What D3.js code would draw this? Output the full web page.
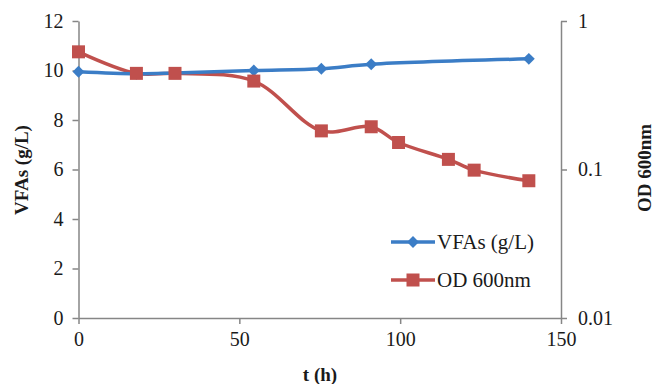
<!DOCTYPE html>
<html>
<head>
<meta charset="utf-8">
<script src="https://cdn.jsdelivr.net/npm/d3@7"></script>
<style>
  body { margin: 0; background: #fff; }
  svg text { font-family: "Liberation Serif", "Times New Roman", serif; fill: #1a1a1a; }
</style>
</head>
<body>
<div id="chart"></div>
<script>
// time points (h)
const hours = [0, 18, 30, 54.5, 75.5, 91, 99.5, 115, 123, 140];
// VFAs (g/L), measured at fewer times
const vfaHours = [0, 18, 30, 54.5, 75.5, 91, 140];
const vfaValues = [9.95, 9.87, 9.9, 10.0, 10.07, 10.25, 10.47];
// OD 600nm (log axis)
const odValues = [0.62, 0.444, 0.444, 0.394, 0.182, 0.194, 0.152, 0.117, 0.099, 0.084];

const leftTicks = [0, 2, 4, 6, 8, 10, 12];
const rightTicks = [0.01, 0.1, 1];
const xTicks = [0, 50, 100, 150];

const width = 654, height = 384;
const blue = '#3B7DC6', red = '#C0504D', axisGrey = '#868686';

const svg = d3.select('#chart').append('svg')
    .attr('width', width)
    .attr('height', height);

const x = d3.scaleLinear().domain([0, 150]).range([78.5, 561]);
const yL = d3.scaleLinear().domain([0, 12]).range([318, 21]);
const yR = d3.scaleLog().domain([0.01, 1]).range([318, 21]);

// axes
const xAxis = svg.append('g')
    .attr('transform', 'translate(0,318)')
    .call(d3.axisBottom(x).tickValues(xTicks).tickSize(6).tickSizeOuter(0).tickPadding(8));

const leftAxis = svg.append('g')
    .attr('transform', 'translate(78.5,0)')
    .call(d3.axisLeft(yL).tickValues(leftTicks).tickSize(6).tickSizeOuter(0).tickPadding(9));

const rightAxis = svg.append('g')
    .attr('transform', 'translate(561,0)')
    .call(d3.axisRight(yR).tickValues(rightTicks).tickFormat(d3.format('~g')).tickSize(6).tickSizeOuter(0).tickPadding(11));

[xAxis, leftAxis, rightAxis].forEach(g => {
  g.select('.domain').attr('stroke', axisGrey).attr('stroke-width', 1.5);
  g.selectAll('.tick line').attr('stroke', axisGrey).attr('stroke-width', 1.5);
  g.selectAll('.tick text')
      .attr('font-size', 20)
      .attr('font-family', '"Liberation Serif", serif')
      .attr('fill', '#1a1a1a');
});

// axis titles
svg.append('text')
    .attr('x', 320).attr('y', 381)
    .attr('text-anchor', 'middle')
    .attr('font-size', 19).attr('font-weight', 'bold')
    .text('t (h)');

svg.append('text')
    .attr('transform', 'translate(28,170) rotate(-90)')
    .attr('text-anchor', 'middle')
    .attr('font-size', 19).attr('font-weight', 'bold')
    .text('VFAs (g/L)');

svg.append('text')
    .attr('transform', 'translate(651,168) rotate(-90)')
    .attr('text-anchor', 'middle')
    .attr('font-size', 19).attr('font-weight', 'bold')
    .text('OD 600nm');

// series
const vfaData = vfaHours.map((h, i) => ({t: h, v: vfaValues[i]}));
const odData = hours.map((h, i) => ({t: h, v: odValues[i]}));

const vfaLine = d3.line().x(d => x(d.t)).y(d => yL(d.v)).curve(d3.curveCatmullRom.alpha(0.5));
const odLine = d3.line().x(d => x(d.t)).y(d => yR(d.v)).curve(d3.curveCatmullRom.alpha(0.5));

svg.append('path')
    .datum(odData)
    .attr('d', odLine)
    .attr('fill', 'none')
    .attr('stroke', red)
    .attr('stroke-width', 3.5);

svg.append('path')
    .datum(vfaData)
    .attr('d', vfaLine)
    .attr('fill', 'none')
    .attr('stroke', blue)
    .attr('stroke-width', 3.5);

const diamond = d3.symbol().type(d3.symbolDiamond2).size(90);

svg.selectAll('.vfa-mark')
    .data(vfaData)
  .join('path')
    .attr('class', 'vfa-mark')
    .attr('d', diamond)
    .attr('transform', d => `translate(${x(d.t)},${yL(d.v)})`)
    .attr('fill', blue);

svg.selectAll('.od-mark')
    .data(odData)
  .join('rect')
    .attr('class', 'od-mark')
    .attr('x', d => x(d.t) - 6.5)
    .attr('y', d => yR(d.v) - 6.5)
    .attr('width', 13)
    .attr('height', 13)
    .attr('fill', red);

// legend
const legend = svg.append('g');
const legendItems = [
  {label: 'VFAs (g/L)', color: blue, shape: 'diamond', y: 242},
  {label: 'OD 600nm', color: red, shape: 'square', y: 280}
];

legendItems.forEach(item => {
  legend.append('line')
      .attr('x1', 391).attr('x2', 435)
      .attr('y1', item.y).attr('y2', item.y)
      .attr('stroke', item.color).attr('stroke-width', 3.5);
  if (item.shape === 'diamond') {
    legend.append('path')
        .attr('d', diamond)
        .attr('transform', `translate(413,${item.y})`)
        .attr('fill', item.color);
  } else {
    legend.append('rect')
        .attr('x', 406.5).attr('y', item.y - 6.5)
        .attr('width', 13).attr('height', 13)
        .attr('fill', item.color);
  }
  legend.append('text')
      .attr('x', 437).attr('y', item.y + 7)
      .attr('font-size', 21)
      .text(item.label);
});
</script>
</body>
</html>
